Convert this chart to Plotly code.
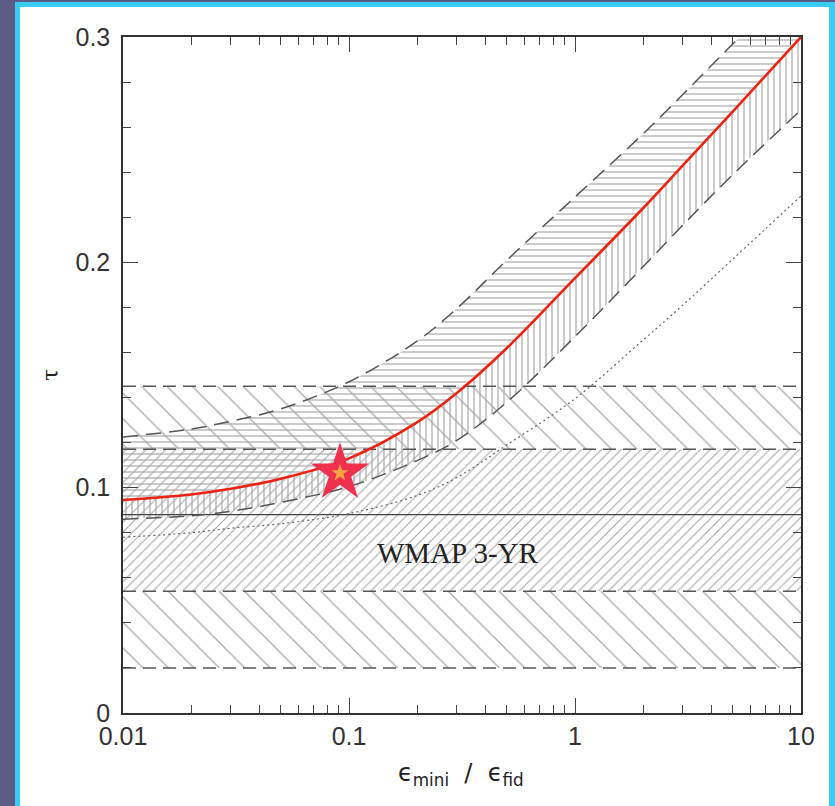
import plotly.graph_objects as go

# ---- data ----
x_model = [0.01, 0.02, 0.03, 0.05, 0.1, 0.2, 0.3, 0.5, 1, 2, 3, 5, 10]
tau_central = [0.0945, 0.097, 0.0995, 0.104, 0.113, 0.129, 0.142, 0.162, 0.193, 0.224, 0.243, 0.267, 0.300]
tau_upper = [0.1225, 0.126, 0.1295, 0.135, 0.147, 0.165, 0.1795, 0.201, 0.229, 0.257, 0.2745, 0.297, 0.327]
tau_lower = [0.086, 0.0875, 0.0895, 0.0935, 0.1005, 0.112, 0.121, 0.138, 0.167, 0.198, 0.2165, 0.239, 0.2676]
tau_dotted = [0.078, 0.080, 0.082, 0.084, 0.0885, 0.0965, 0.1045, 0.119, 0.1395, 0.1655, 0.181, 0.2015, 0.2295]

x_band = [0.01, 10]
wmap_tau = 0.088
wmap_1sig = [0.054, 0.117]
wmap_2sig = [0.020, 0.145]

star_x = [0.0912]
star_tau = [0.1065]

x_ticks = [0.01, 0.1, 1, 10]
x_ticktext = ["0.01", "0.1", "1", "10"]
x_minor = [k * 10.0 ** e for e in (-2, -1, 0) for k in range(2, 10)]
y_ticks = [0, 0.1, 0.2, 0.3]
y_ticktext = ["0", "0.1", "0.2", "0.3"]

HATCH = "#a8a8a8"
DASHC = "#555555"

fig = go.Figure()

def band(lo, hi, shape, size, solidity, bg):
    fig.add_trace(go.Scatter(x=x_band, y=[lo, lo], mode="lines", line=dict(width=0),
                             hoverinfo="skip", showlegend=False))
    fig.add_trace(go.Scatter(x=x_band, y=[hi, hi], mode="lines", line=dict(width=0),
                             fill="tonexty", fillcolor=bg,
                             fillpattern=dict(shape=shape, size=size, solidity=solidity,
                                              fgcolor=HATCH, bgcolor=bg, fillmode="replace"),
                             hoverinfo="skip", showlegend=False))

# WMAP 2-sigma and 1-sigma bands
band(wmap_2sig[0], wmap_2sig[1], "\\", 18, 0.07, "white")
band(wmap_1sig[0], wmap_1sig[1], "/", 7, 0.16, "white")

# model band: lower -> central (vertical hatch), central -> upper (horizontal hatch)
fig.add_trace(go.Scatter(x=x_model, y=tau_lower, mode="lines", line=dict(width=0), line_shape="spline",
                         hoverinfo="skip", showlegend=False))
fig.add_trace(go.Scatter(x=x_model, y=tau_central, mode="lines", line=dict(width=0), line_shape="spline",
                         fill="tonexty", fillcolor="rgba(0,0,0,0)",
                         fillpattern=dict(shape="|", size=6, solidity=0.2, fgcolor=HATCH,
                                          bgcolor="rgba(0,0,0,0)", fillmode="replace"),
                         hoverinfo="skip", showlegend=False))
fig.add_trace(go.Scatter(x=x_model, y=tau_upper, mode="lines", line=dict(width=0), line_shape="spline",
                         fill="tonexty", fillcolor="rgba(0,0,0,0)",
                         fillpattern=dict(shape="-", size=6, solidity=0.2, fgcolor=HATCH,
                                          bgcolor="rgba(0,0,0,0)", fillmode="replace"),
                         hoverinfo="skip", showlegend=False))

# WMAP lines
for v in (wmap_2sig[0], wmap_1sig[0], wmap_1sig[1], wmap_2sig[1]):
    fig.add_trace(go.Scatter(x=x_band, y=[v, v], mode="lines",
                             line=dict(color=DASHC, width=1.5, dash="13px,7px"),
                             hoverinfo="skip", showlegend=False))
fig.add_trace(go.Scatter(x=x_band, y=[wmap_tau, wmap_tau], mode="lines",
                         line=dict(color="#444444", width=1.3),
                         hoverinfo="skip", showlegend=False))

# model curves
fig.add_trace(go.Scatter(x=x_model, y=tau_upper, mode="lines", line_shape="spline",
                         line=dict(color=DASHC, width=1.5, dash="15px,8px"), showlegend=False))
fig.add_trace(go.Scatter(x=x_model, y=tau_lower, mode="lines", line_shape="spline",
                         line=dict(color=DASHC, width=1.5, dash="15px,8px"), showlegend=False))
fig.add_trace(go.Scatter(x=x_model, y=tau_dotted, mode="lines", line_shape="spline",
                         line=dict(color="#666666", width=1.2, dash="2px,3px"), showlegend=False))
fig.add_trace(go.Scatter(x=x_model, y=tau_central, mode="lines", line_shape="spline",
                         line=dict(color="#ee2211", width=2.6), showlegend=False))

# star
fig.add_trace(go.Scatter(x=star_x, y=star_tau, mode="markers",
                         marker=dict(symbol="star", size=44, color="#f0304c", line=dict(width=0)),
                         showlegend=False))
fig.add_trace(go.Scatter(x=star_x, y=star_tau, mode="markers",
                         marker=dict(symbol="star", size=13, color="#f5a540", line=dict(width=0)),
                         showlegend=False))

axis_common = dict(ticks="inside", ticklen=15, tickwidth=1.2, tickcolor="#444",
                   showline=True, linecolor="#333", linewidth=1.5, mirror="ticks",
                   showgrid=False, zeroline=False,
                   tickfont=dict(family="Liberation Sans, Arial, sans-serif", size=25, color="#333"))

fig.update_xaxes(type="log", range=[-2, 1], tickmode="array", tickvals=x_ticks, ticktext=x_ticktext,
                 minor=dict(ticks="inside", ticklen=8, tickwidth=1, tickcolor="#444",
                            tickmode="array", tickvals=x_minor, showgrid=False),
                 **axis_common)
fig.update_yaxes(range=[0, 0.3], tickmode="array", tickvals=y_ticks, ticktext=y_ticktext,
                 minor=dict(ticks="inside", ticklen=8, tickwidth=1, tickcolor="#444",
                            dtick=0.02, showgrid=False),
                 ticklabelstandoff=6,
                 **axis_common)

PW, PH = 678.0, 676.0
def px(xp):
    return (xp - 123) / PW
def py(yp):
    return (713 - yp) / PH

shapes = [
    dict(type="rect", xref="paper", yref="paper", x0=px(0), x1=px(15), y0=py(806), y1=py(0),
         fillcolor="#5c5c84", line=dict(width=0), layer="below"),
    dict(type="rect", xref="paper", yref="paper", x0=px(0), x1=px(835), y0=py(2), y1=py(0),
         fillcolor="#5c5c84", line=dict(width=0), layer="below"),
    dict(type="rect", xref="paper", yref="paper", x0=px(15), x1=px(20), y0=py(806), y1=py(2),
         fillcolor="#38cdf8", line=dict(width=0), layer="below"),
    dict(type="rect", xref="paper", yref="paper", x0=px(15), x1=px(835), y0=py(7), y1=py(2),
         fillcolor="#38cdf8", line=dict(width=0), layer="below"),
    dict(type="rect", xref="paper", yref="paper", x0=px(829), x1=px(835), y0=py(806), y1=py(2),
         fillcolor="#38cdf8", line=dict(width=0), layer="below"),
]

annotations = [
    dict(text="WMAP 3-YR", xref="paper", yref="paper", x=px(458), y=py(553), showarrow=False,
         xanchor="center", yanchor="middle",
         font=dict(family="Liberation Serif, Times New Roman, serif", size=29, color="#222")),
    dict(text="τ", xref="paper", yref="paper", x=px(50), y=py(375), showarrow=False, textangle=-90,
         xanchor="center", yanchor="middle",
         font=dict(family="DejaVu Serif, serif", size=22, color="#222")),
    dict(text="ϵ<sub>mini</sub>  /  ϵ<sub>fid</sub>", xref="paper", yref="paper",
         x=px(461), y=py(775), showarrow=False, xanchor="center", yanchor="middle",
         font=dict(family="DejaVu Sans, sans-serif", size=24, color="#222")),
]

fig.update_layout(width=835, height=806, autosize=False,
                  margin=dict(l=123, r=34, t=37, b=93),
                  paper_bgcolor="white", plot_bgcolor="white",
                  shapes=shapes, annotations=annotations, showlegend=False)

fig.write_html("out.html", config={"displayModeBar": False},
               post_script="document.body.style.margin='0';document.body.style.padding='0';")
